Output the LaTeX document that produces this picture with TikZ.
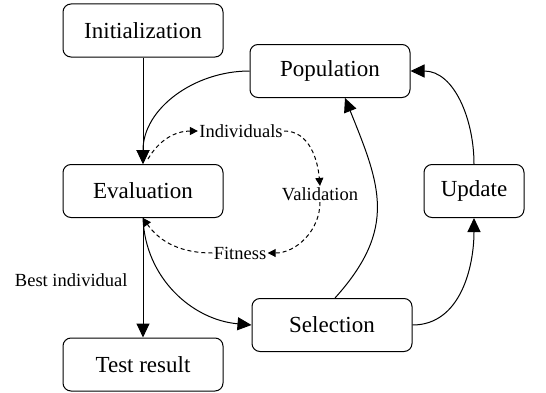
\documentclass[tikz,border=0pt]{standalone}
\usepackage{fontspec}
\setmainfont{Liberation Serif}
\usetikzlibrary{arrows.meta,positioning}

\begin{document}
\begin{tikzpicture}[x=1pt, y=1pt, line width=1pt, >={Triangle[length=14pt, width=13pt]}]
    \tikzstyle{stage} = [rectangle, draw, rounded corners=8, minimum width=160, minimum height=53, font=\fontsize{23}{27}\selectfont]
    \tikzstyle{tag}   = [font=\fontsize{18.5}{22}\selectfont, inner sep=1]
    \tikzstyle{flow}  = [dashed, dash pattern=on 4pt off 3pt, -{Triangle[length=8pt, width=8pt]}]

    \useasboundingbox (0,0) rectangle (546,392);

    \node[stage]                  (in)  at (143,361.5) {Initialization};
    \node[stage]                  (ev)  at (143,201)   {Evaluation};
    \node[stage]                  (te)  at (143,27.5)  {Test result};
    \node[stage]                  (po)  at (330,321)   {Population};
    \node[stage]                  (se)  at (332,67)    {Selection};
    \node[stage, minimum width=100] (up) at (474,201)  {Update};

    \node[tag] (ind) at (241,261) {Individuals};
    \node[tag] (val) at (320,198) {Validation};
    \node[tag] (fit) at (240,139) {Fitness};
    \node[tag, left=14 of ev.south, yshift=-62] (bst) {Best individual};

    \draw[->] (in) -- (ev);
    \draw[->] (ev) -- (te);
    \draw[->] (po.west) to[out=180, in=90] (ev.north);
    \draw[->] (ev.south) to[out=-88, in=175] (se.west);
    \draw[->] ([xshift=3]se.north) to[out=48, in=-68, looseness=1.2] ([xshift=15]po.south);
    \draw[->] (se.east) to[out=0, in=-90] (up.south);
    \draw[->] (up.north) to[out=90, in=0] (po.east);

    \draw[flow] ([xshift=5,yshift=5]ev.north) to[out=60, in=180] (ind.west);
    \draw[flow] (ind.east) to[out=0, in=95] (val.north);
    \draw[flow] (val.south) to[out=-90, in=0] (fit.east);
    \draw[flow] (fit.west) to[out=180, in=-55] (ev.south);
  \end{tikzpicture}
\end{document}
